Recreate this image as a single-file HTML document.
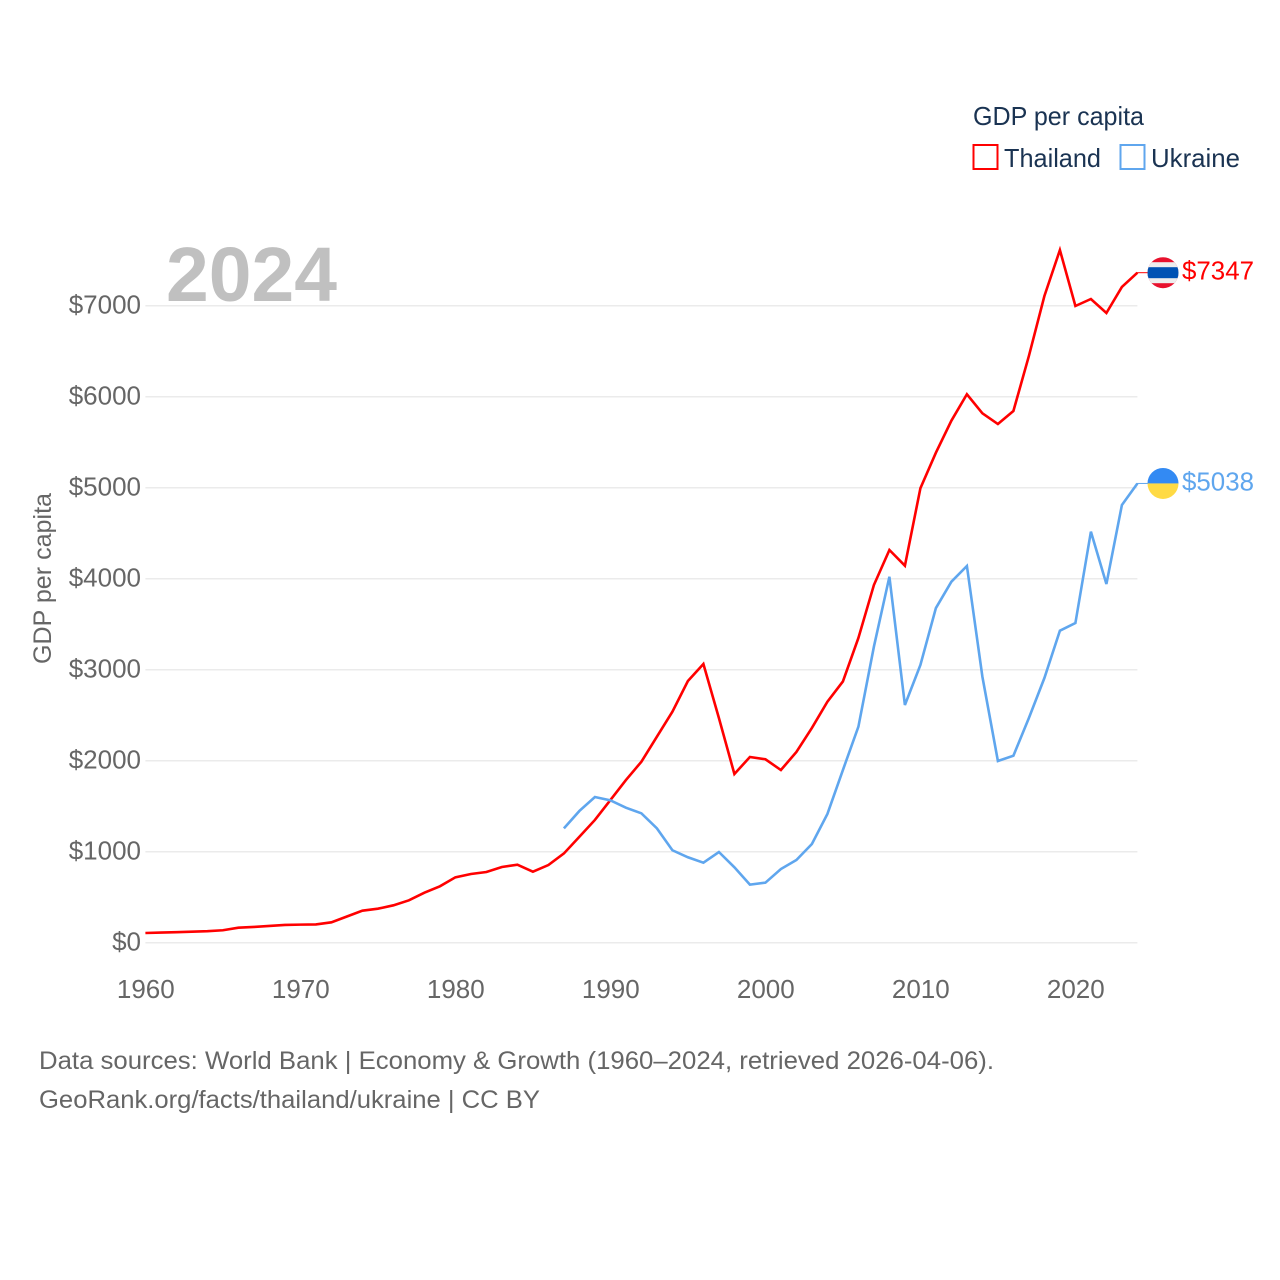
<!DOCTYPE html>
<html lang="en">
<head>
<meta charset="utf-8">
<title>GDP per capita: Thailand and Ukraine</title>
<style>
html,body{margin:0;padding:0;background:#fff;}
svg{display:block;font-family:"Liberation Sans",sans-serif;}
</style>
</head>
<body>
<svg id="chart" xmlns="http://www.w3.org/2000/svg" width="1280" height="1280" viewBox="0 0 1280 1280">
  <defs>
    <clipPath id="flag-clip-th"><circle cx="0" cy="0" r="15.5"></circle></clipPath>
    <clipPath id="flag-clip-ua"><circle cx="0" cy="0" r="15.5"></circle></clipPath>
  </defs>
  <rect x="0" y="0" width="1280" height="1280" fill="#ffffff"></rect>
  <g id="grid"></g>
  <g id="yticks"></g>
  <g id="xticks"></g>
  <text x="166" y="301" font-size="77" font-weight="700" fill="#c0c0c0" textLength="171" lengthAdjust="spacingAndGlyphs">2024</text>
  <text transform="translate(51,664) rotate(-90)" font-size="25" fill="#666666" textLength="171" lengthAdjust="spacingAndGlyphs">GDP per capita</text>
  <g id="series"></g>
  <g id="ends"></g>
  <g>
    <text x="973" y="125" font-size="26" fill="#1a3352" textLength="171" lengthAdjust="spacingAndGlyphs">GDP per capita</text>
    <g>
      <rect x="973.5" y="145" width="24" height="24" fill="#ffffff" stroke="#ff0000" stroke-width="2"></rect>
      <text x="1004" y="167" font-size="26" fill="#1a3352" textLength="97" lengthAdjust="spacingAndGlyphs">Thailand</text>
    </g>
    <g>
      <rect x="1120.5" y="145" width="24" height="24" fill="#ffffff" stroke="#5fa6ee" stroke-width="2"></rect>
      <text x="1151" y="167" font-size="26" fill="#1a3352" textLength="89" lengthAdjust="spacingAndGlyphs">Ukraine</text>
    </g>
  </g>
  <text x="39" y="1069" font-size="25" fill="#666666" textLength="955" lengthAdjust="spacingAndGlyphs">Data sources: World Bank | Economy &amp; Growth (1960–2024, retrieved 2026-04-06).</text>
  <text x="39" y="1108" font-size="25" fill="#666666" textLength="501" lengthAdjust="spacingAndGlyphs">GeoRank.org/facts/thailand/ukraine | CC BY</text>
</svg>
<script>
const yTickValues = [0, 1000, 2000, 3000, 4000, 5000, 6000, 7000];
const yTickLabels = ["$0", "$1000", "$2000", "$3000", "$4000", "$5000", "$6000", "$7000"];
const xTickYears = [1960, 1970, 1980, 1990, 2000, 2010, 2020];
const thailandStartYear = 1960;
const thailandValues = [110,115,119,124,130,140,168,176,187,198,202,204,227,291,355,377,414,469,553,623,722,758,780,835,860,784,857,984,1168,1352,1571,1791,1992,2267,2542,2879,3066,2473,1857,2044,2019,1901,2099,2363,2652,2874,3352,3934,4319,4146,4997,5388,5740,6030,5821,5703,5846,6451,7110,7615,7000,7077,6923,7209,7366];
const ukraineStartYear = 1987;
const ukraineValues = [1260,1451,1604,1568,1487,1425,1260,1019,942,882,1000,832,641,663,813,912,1088,1418,1901,2377,3256,4025,2615,3055,3681,3970,4143,2926,2000,2058,2473,2912,3432,3516,4520,3945,4813,5050];
const thailandEndLabel = "$7347";
const ukraineEndLabel = "$5038";

const NS = "http://www.w3.org/2000/svg";
function xScale(year) { return 145.4 + (year - 1960) * 15.5; }
function yScale(value) { return 943 - value * 0.091; }
function make(tag, parent, props) {
  const el = document.createElementNS(NS, tag);
  for (const k in props) el.setAttribute(k, props[k]);
  parent.appendChild(el);
  return el;
}
function linePoints(startYear, values) {
  return values.map(function (v, i) {
    return xScale(startYear + i).toFixed(2) + "," + yScale(v).toFixed(2);
  }).join(" ");
}

const gridG = document.getElementById("grid");
const yG = document.getElementById("yticks");
yTickValues.forEach(function (v, i) {
  const line = make("line", gridG, { x1: xScale(1960), x2: xScale(2024), y1: yScale(v) - 0.3, y2: yScale(v) - 0.3, stroke: "#ebebeb", "stroke-width": 1.5 });
  
  
  const t = make("text", yG, { x: 141, y: yScale(v) + 7.6, "font-size": 26, fill: "#666666", "text-anchor": "end" });
  
  
  t.textContent = yTickLabels[i];
});

const xG = document.getElementById("xticks");
xTickYears.forEach(function (yr) {
  const t = make("text", xG, { x: xScale(yr) + 0.4, y: 998, "font-size": 26, fill: "#666666", "text-anchor": "middle" });
  
  
  t.textContent = String(yr);
});

const seriesG = document.getElementById("series");
const thLine = make("polyline", seriesG, { points: linePoints(thailandStartYear, thailandValues), fill: "none", stroke: "#ff0000", "stroke-width": 2.6, "stroke-linejoin": "miter" });


const uaLine = make("polyline", seriesG, { points: linePoints(ukraineStartYear, ukraineValues), fill: "none", stroke: "#5fa6ee", "stroke-width": 2.6, "stroke-linejoin": "miter" });



const endsG = document.getElementById("ends");
const thEndY = yScale(thailandValues[thailandValues.length - 1]);
const uaEndY = yScale(ukraineValues[ukraineValues.length - 1]);

const thConn = make("line", endsG, { x1: 1137, x2: 1148, y1: thEndY, y2: thEndY, stroke: "#ff0000", "stroke-width": 1 });


const uaConn = make("line", endsG, { x1: 1137, x2: 1148, y1: uaEndY, y2: uaEndY, stroke: "#5fa6ee", "stroke-width": 1 });



const thFlag = make("g", endsG, { transform: "translate(1163," + thEndY + ")", "clip-path": "url(#flag-clip-th)" });


make("rect", thFlag, { x: -16, y: -16, width: 32, height: 32, fill: "#e8112d" });
make("rect", thFlag, { x: -16, y: -10.5, width: 32, height: 21, fill: "#eeeeee" });
make("rect", thFlag, { x: -16, y: -5.5, width: 32, height: 11, fill: "#0052b4" });

const uaFlag = make("g", endsG, { transform: "translate(1163," + uaEndY + ")", "clip-path": "url(#flag-clip-ua)" });


make("rect", uaFlag, { x: -16, y: -16, width: 32, height: 16, fill: "#338af3" });
make("rect", uaFlag, { x: -16, y: 0, width: 32, height: 16, fill: "#ffda44" });

const thLabel = make("text", endsG, { x: 1182, y: thEndY + 7, "font-size": 26, fill: "#ff0000", textLength: 72, lengthAdjust: "spacingAndGlyphs" });


thLabel.textContent = thailandEndLabel;
const uaLabel = make("text", endsG, { x: 1182, y: uaEndY + 7, "font-size": 26, fill: "#5fa6ee", textLength: 72, lengthAdjust: "spacingAndGlyphs" });


uaLabel.textContent = ukraineEndLabel;
</script>
</body>
</html>
